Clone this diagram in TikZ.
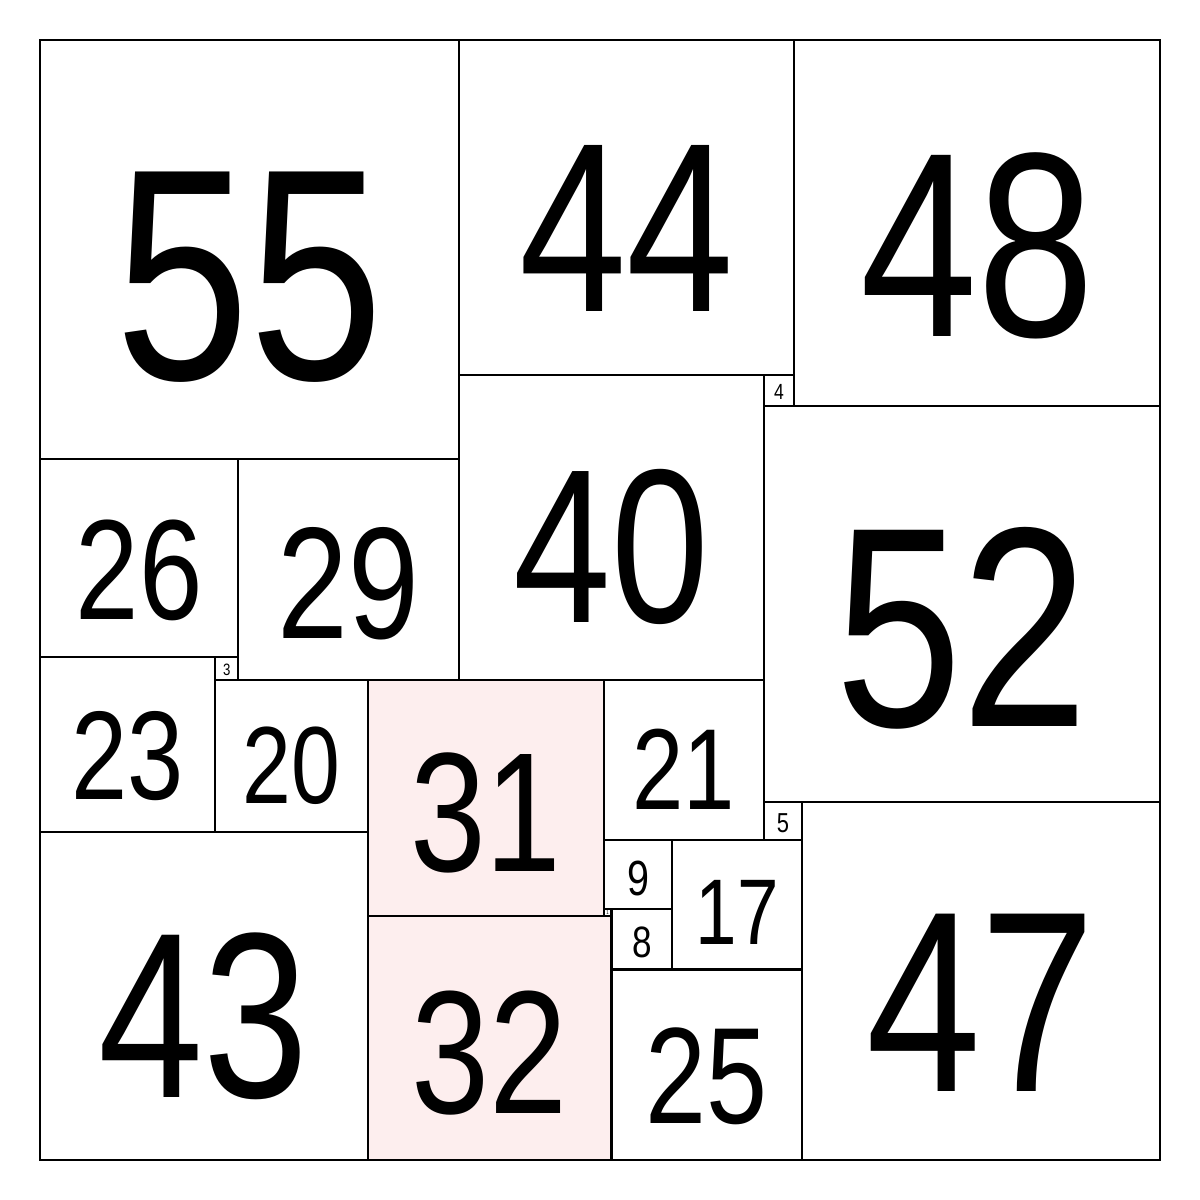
\documentclass[tikz,border=0pt]{standalone}
\usepackage{fontspec}
\setmainfont{Liberation Sans}
\definecolor{sqpink}{HTML}{FDEEEE}
\begin{document}
\begin{tikzpicture}[x=1mm,y=-1mm,
  sq/.style={draw=black, line width=0.8pt},
  num/.style={anchor=base, inner sep=0pt, outer sep=0pt}]
\useasboundingbox (-5.25,-5.25) rectangle (152.25,152.25);
\fill[white] (-5.25,-5.25) rectangle (152.25,152.25);
\foreach \n/\x/\y/\s/\c in {
  55/0/0/55/white, 44/55/0/44/white, 48/99/0/48/white, 4/95/44/4/white,
  52/95/48/52/white, 40/55/44/40/white, 26/0/55/26/white, 29/26/55/29/white,
  3/23/81/3/white, 23/0/81/23/white, 20/23/84/20/white, 43/0/104/43/white,
  31/43/84/31/sqpink, 32/43/115/32/sqpink, 21/74/84/21/white, 5/95/100/5/white,
  47/100/100/47/white, 9/74/105/9/white, 17/83/105/17/white, 1/74/114/1/white,
  8/75/114/8/white, 25/75/122/25/white}{
  \pgfmathsetmacro\fs{2.0486*\s}
  \draw[sq, fill=\c] (\x,\y) rectangle ++(\s,\s);
  \node[num, font=\fontsize{\fs pt}{\fs pt}\selectfont] (t\n) at (\x+\s/2, \y+0.81*\s) {\scalebox{0.8}[1]{\n}};
}
\end{tikzpicture}
\end{document}
